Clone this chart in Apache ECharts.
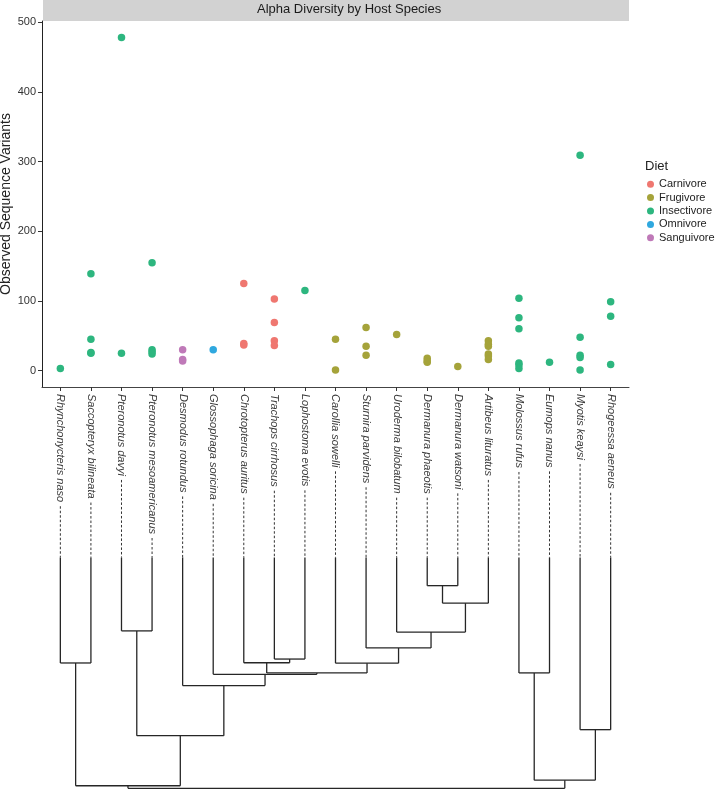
<!DOCTYPE html>
<html><head><meta charset="utf-8">
<script src="https://cdn.jsdelivr.net/npm/echarts@6/dist/echarts.min.js"></script>
<style>html,body{margin:0;padding:0;background:#fff}#c{width:716px;height:789px}</style>
</head><body><div id="c"></div>
<script>
// ---------- data ----------
const species = ["Rhynchonycteris naso","Saccopteryx bilineata","Pteronotus davyi","Pteronotus mesoamericanus","Desmodus rotundus","Glossophaga soricina","Chrotopterus auritus","Trachops cirrhosus","Lophostoma evotis","Carollia sowelli","Sturnira parvidens","Uroderma bilobatum","Dermanura phaeotis","Dermanura watsoni","Artibeus lituratus","Molossus rufus","Eumops nanus","Myotis keaysi","Rhogeessa aeneus"];
const speciesDiet = ["Insectivore","Insectivore","Insectivore","Insectivore","Sanguivore","Omnivore","Carnivore","Carnivore","Insectivore","Frugivore","Frugivore","Frugivore","Frugivore","Frugivore","Frugivore","Insectivore","Insectivore","Insectivore","Insectivore"];
const observedVariants = [
  [3],
  [139,45,26,25],
  [478,25],
  [155,30,27,24],
  [30,16,14],
  [30],
  [125,39,37],
  [103,69,43,36],
  [115],
  [45,1],
  [62,35,22],
  [52],
  [18,14,12],
  [6],
  [43,38,35,24,21,16],
  [104,76,60,11,8,3],
  [12],
  [309,48,22,19,1],
  [99,78,9]
];
const diets = ["Carnivore","Frugivore","Insectivore","Omnivore","Sanguivore"];
const yTicks = [0,100,200,300,400,500];
// dendrogram merges (hclust style: negative = tip number, positive = earlier merge row)
const treeMergeA = [-1,-3,-8,-7,-13, 5,-12,-11,-10, 4,-6,-5, 2, 1,-16,-18,15,14];
const treeMergeB = [-2,-4,-9, 3,-14,-15, 6, 7, 8, 9,10,11,12,13,-17,-19,16,17];
const treeHeight = [0.457,0.318,0.440,0.456,0.122,0.198,0.323,0.392,0.458,0.500,0.506,0.555,0.772,0.989,0.500,0.746,0.965,1.000];

// ---------- styling ----------
const dietColors = {Carnivore:"#EF7770",Frugivore:"#A5A33A",Insectivore:"#2DB67F",Omnivore:"#2FA8DF",Sanguivore:"#BF79B8"};
const FONT = "Liberation Sans";
const X_MIN = -0.6, X_MAX = 18.6, Y_MIN = -23.4, Y_MAX = 501.6;
const LABEL_MARGIN = 7;

function treeSegments(){
  const nx = [], nh = [], segs = [];
  const pos = r => r < 0 ? [-r-1, 0] : [nx[r-1], nh[r-1]];
  for (let i = 0; i < treeMergeA.length; i++){
    const a = pos(treeMergeA[i]), b = pos(treeMergeB[i]), h = treeHeight[i];
    segs.push([a[0], a[1], a[0], h, 0]);
    segs.push([b[0], b[1], b[0], h, 0]);
    segs.push([a[0], h, b[0], h, 0]);
    nx.push((a[0]+b[0])/2); nh.push(h);
  }
  return segs;
}

const scatterSeries = diets.map(d => {
  const data = [];
  species.forEach((s, i) => { if (speciesDiet[i] === d) observedVariants[i].forEach(v => data.push([i, v])); });
  return {name: d, type: 'scatter', xAxisIndex: 0, yAxisIndex: 0, data, symbolSize: 7.5,
    itemStyle: {color: dietColors[d], opacity: 1}, emphasis: {disabled: true}, z: 3};
});

const chart = echarts.init(document.getElementById('c'), null, {renderer: 'canvas'});
const treeSeries = {
  type: 'custom', xAxisIndex: 1, yAxisIndex: 1, clip: false, silent: true,
  dimensions: ['x1','y1','x2','y2','dash'],
  encode: {x: [0,2], y: [1,3]},
  data: treeSegments(),
  renderItem: (params, api) => {
    const p1 = api.coord([api.value(0), api.value(1)]);
    const p2 = api.coord([api.value(2), api.value(3)]);
    const dashed = api.value(4) === 1;
    return {type: 'line', shape: {x1: p1[0], y1: p1[1], x2: p2[0], y2: p2[1]},
      style: {stroke: dashed ? '#333' : '#262626', lineWidth: dashed ? 1 : 1.3, lineDash: dashed ? [2.5, 2] : null}};
  }
};

const option = {
  animation: false,
  backgroundColor: '#fff',
  textStyle: {fontFamily: FONT},
  grid: [
    {left: 42, top: 21, width: 587, height: 366, containLabel: false, outerBoundsMode: 'none'},
    {left: 42, top: 557.5, width: 587, height: 230.8, containLabel: false, outerBoundsMode: 'none'}
  ],
  xAxis: [
    {type: 'value', gridIndex: 0, min: X_MIN, max: X_MAX,
      axisLine: {show: true, onZero: false, lineStyle: {color: '#444', width: 1}},
      axisTick: {show: true, length: 4, customValues: species.map((s, i) => i), lineStyle: {color: '#333'}},
      axisLabel: {show: true, customValues: species.map((s, i) => i), rotate: -90, margin: LABEL_MARGIN,
        formatter: v => species[Math.round(v)] || '', fontSize: 11, fontStyle: 'italic', color: '#3a3a3a', fontFamily: FONT},
      splitLine: {show: false}},
    {type: 'value', gridIndex: 1, min: X_MIN, max: X_MAX, show: false}
  ],
  yAxis: [
    {type: 'value', gridIndex: 0, min: Y_MIN, max: Y_MAX,
      name: 'Observed Sequence Variants', nameLocation: 'middle', nameGap: 29, nameRotate: 90, nameMoveOverlap: false,
      nameTextStyle: {fontSize: 14, color: '#222', fontFamily: FONT},
      axisLine: {show: true, onZero: false, lineStyle: {color: '#222', width: 1}},
      axisTick: {show: true, length: 4, customValues: yTicks, lineStyle: {color: '#333'}},
      axisLabel: {customValues: yTicks, fontSize: 11, color: '#333', margin: 6, fontFamily: FONT},
      splitLine: {show: false}},
    {type: 'value', gridIndex: 1, min: 0, max: 1, inverse: true, show: false}
  ],
  title: [
    {text: 'Diet', left: 645, top: 160, padding: 0,
      textStyle: {fontSize: 13, fontWeight: 'normal', color: '#222', fontFamily: FONT}}
  ],
  legend: {
    data: diets, orient: 'vertical', left: 647, top: 177.5, padding: 0,
    icon: 'circle', itemWidth: 7, itemHeight: 7, itemGap: 0,
    textStyle: {fontSize: 11, color: '#222', lineHeight: 13.4, fontFamily: FONT},
    selectedMode: false
  },
  graphic: [
    {type: 'rect', left: 43, top: 0, shape: {width: 586, height: 21}, style: {fill: '#D2D2D2'}, silent: true, z: 0},
    {type: 'text', left: 257, top: 3, style: {text: 'Alpha Diversity by Host Species', font: '13px "' + FONT + '"', fill: '#1a1a1a'}, silent: true}
  ],
  series: [...scatterSeries, treeSeries]
};
chart.setOption(option);

// dashed leaders from the end of each label down to the tree tips
const ctx = document.createElement('canvas').getContext('2d');
ctx.font = 'italic 11px "' + FONT + '"';
const axisY = chart.convertToPixel({yAxisIndex: 0}, Y_MIN);
const leaders = species.map((s, i) => {
  const px = axisY + LABEL_MARGIN + ctx.measureText(s).width + 4;
  const h = chart.convertFromPixel({yAxisIndex: 1}, px);
  return [i, h, i, 0, 1];
});
chart.setOption({series: [...scatterSeries, Object.assign({}, treeSeries, {data: treeSegments().concat(leaders)})]});
</script>
</body></html>
